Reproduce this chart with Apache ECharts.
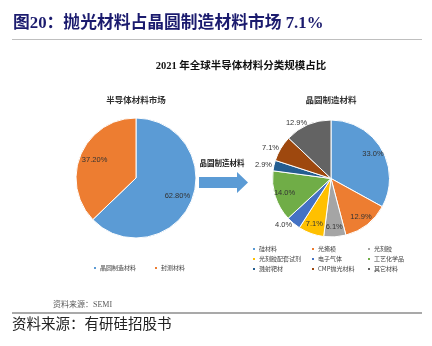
<!DOCTYPE html>
<html>
<head>
<meta charset="utf-8">
<script src="https://cdn.jsdelivr.net/npm/echarts@6/dist/echarts.min.js"></script>
<style>
  html, body { margin: 0; padding: 0; background: #fff; }
  #chart { width: 432px; height: 346px; }
</style>
</head>
<body>
<div id="chart"></div>
<script>
// Semiconductor materials market split (2021)
const marketNames = ['晶圆制造材料', '封测材料'];
const marketValues = [62.8, 37.2];

// Wafer fabrication materials breakdown (2021, %)
const waferNames = ['硅材料', '光掩模', '光刻胶', '光刻胶配套试剂', '电子气体', '工艺化学品', '溅射靶材', 'CMP抛光材料', '其它材料'];
const waferValues = [33.0, 12.9, 6.1, 7.1, 4.0, 14.0, 2.9, 7.1, 12.9];

// Legend columns for the breakdown pie
const legendCol1 = ['硅材料', '光刻胶配套试剂', '溅射靶材'];
const legendCol2 = ['光掩模', '电子气体', 'CMP抛光材料'];
const legendCol3 = ['光刻胶', '工艺化学品', '其它材料'];

const marketColors = ['#5b9bd5', '#ed7d31'];
const waferColors = ['#5b9bd5', '#ed7d31', '#a5a5a5', '#ffc000', '#4472c4', '#70ad47', '#255e91', '#9e480e', '#636363'];
// slices whose percentage sits outside the pie
const outsideLabelNames = new Set(['电子气体', '溅射靶材', 'CMP抛光材料', '其它材料']);

const SERIF = "'Liberation Serif', 'Noto Sans CJK SC', serif";
const SANS = "'Liberation Sans', 'Noto Sans CJK SC', sans-serif";
const CJK = "'Noto Sans CJK SC', sans-serif";

const chart = echarts.init(document.getElementById('chart'), null, { renderer: 'canvas' });

const leftCenter = [136, 178];
const leftR = 60;
const rightCenter = [331, 178.5];
const rightR = 58.5;

function sliceData(names, values, colors) {
  return names.map((n, i) => ({ name: n, value: values[i], itemStyle: { color: colors[i] } }));
}

const legendBase = {
  icon: 'rect',
  itemWidth: 4,
  itemHeight: 4,
  padding: 0,
  selectedMode: false,
  textStyle: { fontSize: 6, color: '#404040', fontFamily: CJK, padding: [0, 0, 0, -2] }
};

function column(data, left) {
  return Object.assign({}, legendBase, {
    orient: 'vertical', left: left, top: 244, itemGap: 0, data: data,
    textStyle: Object.assign({}, legendBase.textStyle, { lineHeight: 10 })
  });
}

const option = {
  backgroundColor: '#ffffff',
  animation: false,
  legend: [
    Object.assign({}, legendBase, { orient: 'horizontal', left: 92, top: 265, itemGap: 17, data: marketNames }),
    column(legendCol1, 251),
    column(legendCol2, 310),
    column(legendCol3, 366)
  ],
  series: [
    {
      type: 'pie',
      center: leftCenter,
      radius: [0, leftR],
      startAngle: 90,
      silent: true,
      label: { show: false },
      labelLine: { show: false },
      itemStyle: { borderColor: '#fff', borderWidth: 1 },
      data: sliceData(marketNames, marketValues, marketColors)
    },
    {
      // percentage labels for the market pie
      type: 'pie',
      center: leftCenter,
      radius: [24, leftR],
      startAngle: 90,
      silent: true,
      avoidLabelOverlap: false,
      itemStyle: { color: 'rgba(0,0,0,0)' },
      label: {
        show: true, position: 'inside', fontSize: 7.5, color: '#333', fontFamily: SANS,
        formatter: p => p.value.toFixed(2) + '%'
      },
      data: marketNames.map((n, i) => ({ name: n, value: marketValues[i] }))
    },
    {
      type: 'pie',
      center: rightCenter,
      radius: [0, rightR],
      startAngle: 90,
      silent: true,
      label: { show: false },
      labelLine: { show: false },
      itemStyle: { borderColor: '#fff', borderWidth: 1 },
      data: sliceData(waferNames, waferValues, waferColors)
    },
    {
      // percentage labels for the wafer materials pie
      type: 'pie',
      center: rightCenter,
      radius: [33, rightR],
      startAngle: 90,
      silent: true,
      avoidLabelOverlap: false,
      itemStyle: { color: 'rgba(0,0,0,0)' },
      label: {
        show: true, fontSize: 7.5, color: '#333', fontFamily: SANS,
        formatter: p => p.value.toFixed(1) + '%'
      },
      labelLine: { show: false, length: 2, length2: 0 },
      data: waferNames.map((n, i) => ({
        name: n,
        value: waferValues[i],
        label: outsideLabelNames.has(n)
          ? { position: 'outside', distanceToLabelLine: 0 }
          : { position: 'inside' }
      }))
    }
  ],
  graphic: [
    {
      type: 'text', left: 13, top: 15, silent: true,
      style: { text: '图20：抛光材料占晶圆制造材料市场 7.1%', fontSize: 16.8, fontWeight: 'bold', fill: '#1b1b6e', fontFamily: SERIF }
    },
    {
      type: 'line', silent: true,
      shape: { x1: 12, y1: 39.5, x2: 422, y2: 39.5 },
      style: { stroke: '#bfbfbf', lineWidth: 1 }
    },
    {
      type: 'text', x: 241, y: 66, silent: true,
      style: { text: '2021 年全球半导体材料分类规模占比', fontSize: 10.5, fontWeight: 'bold', fill: '#111', fontFamily: SERIF, align: 'center', verticalAlign: 'middle' }
    },
    {
      type: 'text', x: 136, y: 100, silent: true,
      style: { text: '半导体材料市场', fontSize: 8.5, fontWeight: 'bold', fill: '#333', fontFamily: CJK, align: 'center', verticalAlign: 'middle' }
    },
    {
      type: 'text', x: 331, y: 100, silent: true,
      style: { text: '晶圆制造材料', fontSize: 8.5, fontWeight: 'bold', fill: '#333', fontFamily: CJK, align: 'center', verticalAlign: 'middle' }
    },
    {
      type: 'text', x: 222, y: 163, silent: true,
      style: { text: '晶圆制造材料', fontSize: 7.5, fontWeight: 'bold', fill: '#222', fontFamily: CJK, align: 'center', verticalAlign: 'middle' }
    },
    {
      type: 'polygon', silent: true,
      shape: { points: [[199, 177], [237, 177], [237, 172], [248, 182.5], [237, 193], [237, 188], [199, 188]] },
      style: { fill: '#5b9bd5' }
    },
    {
      type: 'text', x: 53, y: 305, silent: true,
      style: { text: '资料来源：SEMI', fontSize: 8, fill: '#595959', fontFamily: SERIF, verticalAlign: 'middle' }
    },
    {
      type: 'line', silent: true,
      shape: { x1: 12, y1: 313, x2: 422, y2: 313 },
      style: { stroke: '#8c8c8c', lineWidth: 1.5 }
    },
    {
      type: 'text', x: 12, y: 323, silent: true,
      style: { text: '资料来源：有研硅招股书', fontSize: 14.5, fill: '#222', fontFamily: CJK, verticalAlign: 'middle' }
    }
  ]
};

chart.setOption(option);
</script>
</body>
</html>
